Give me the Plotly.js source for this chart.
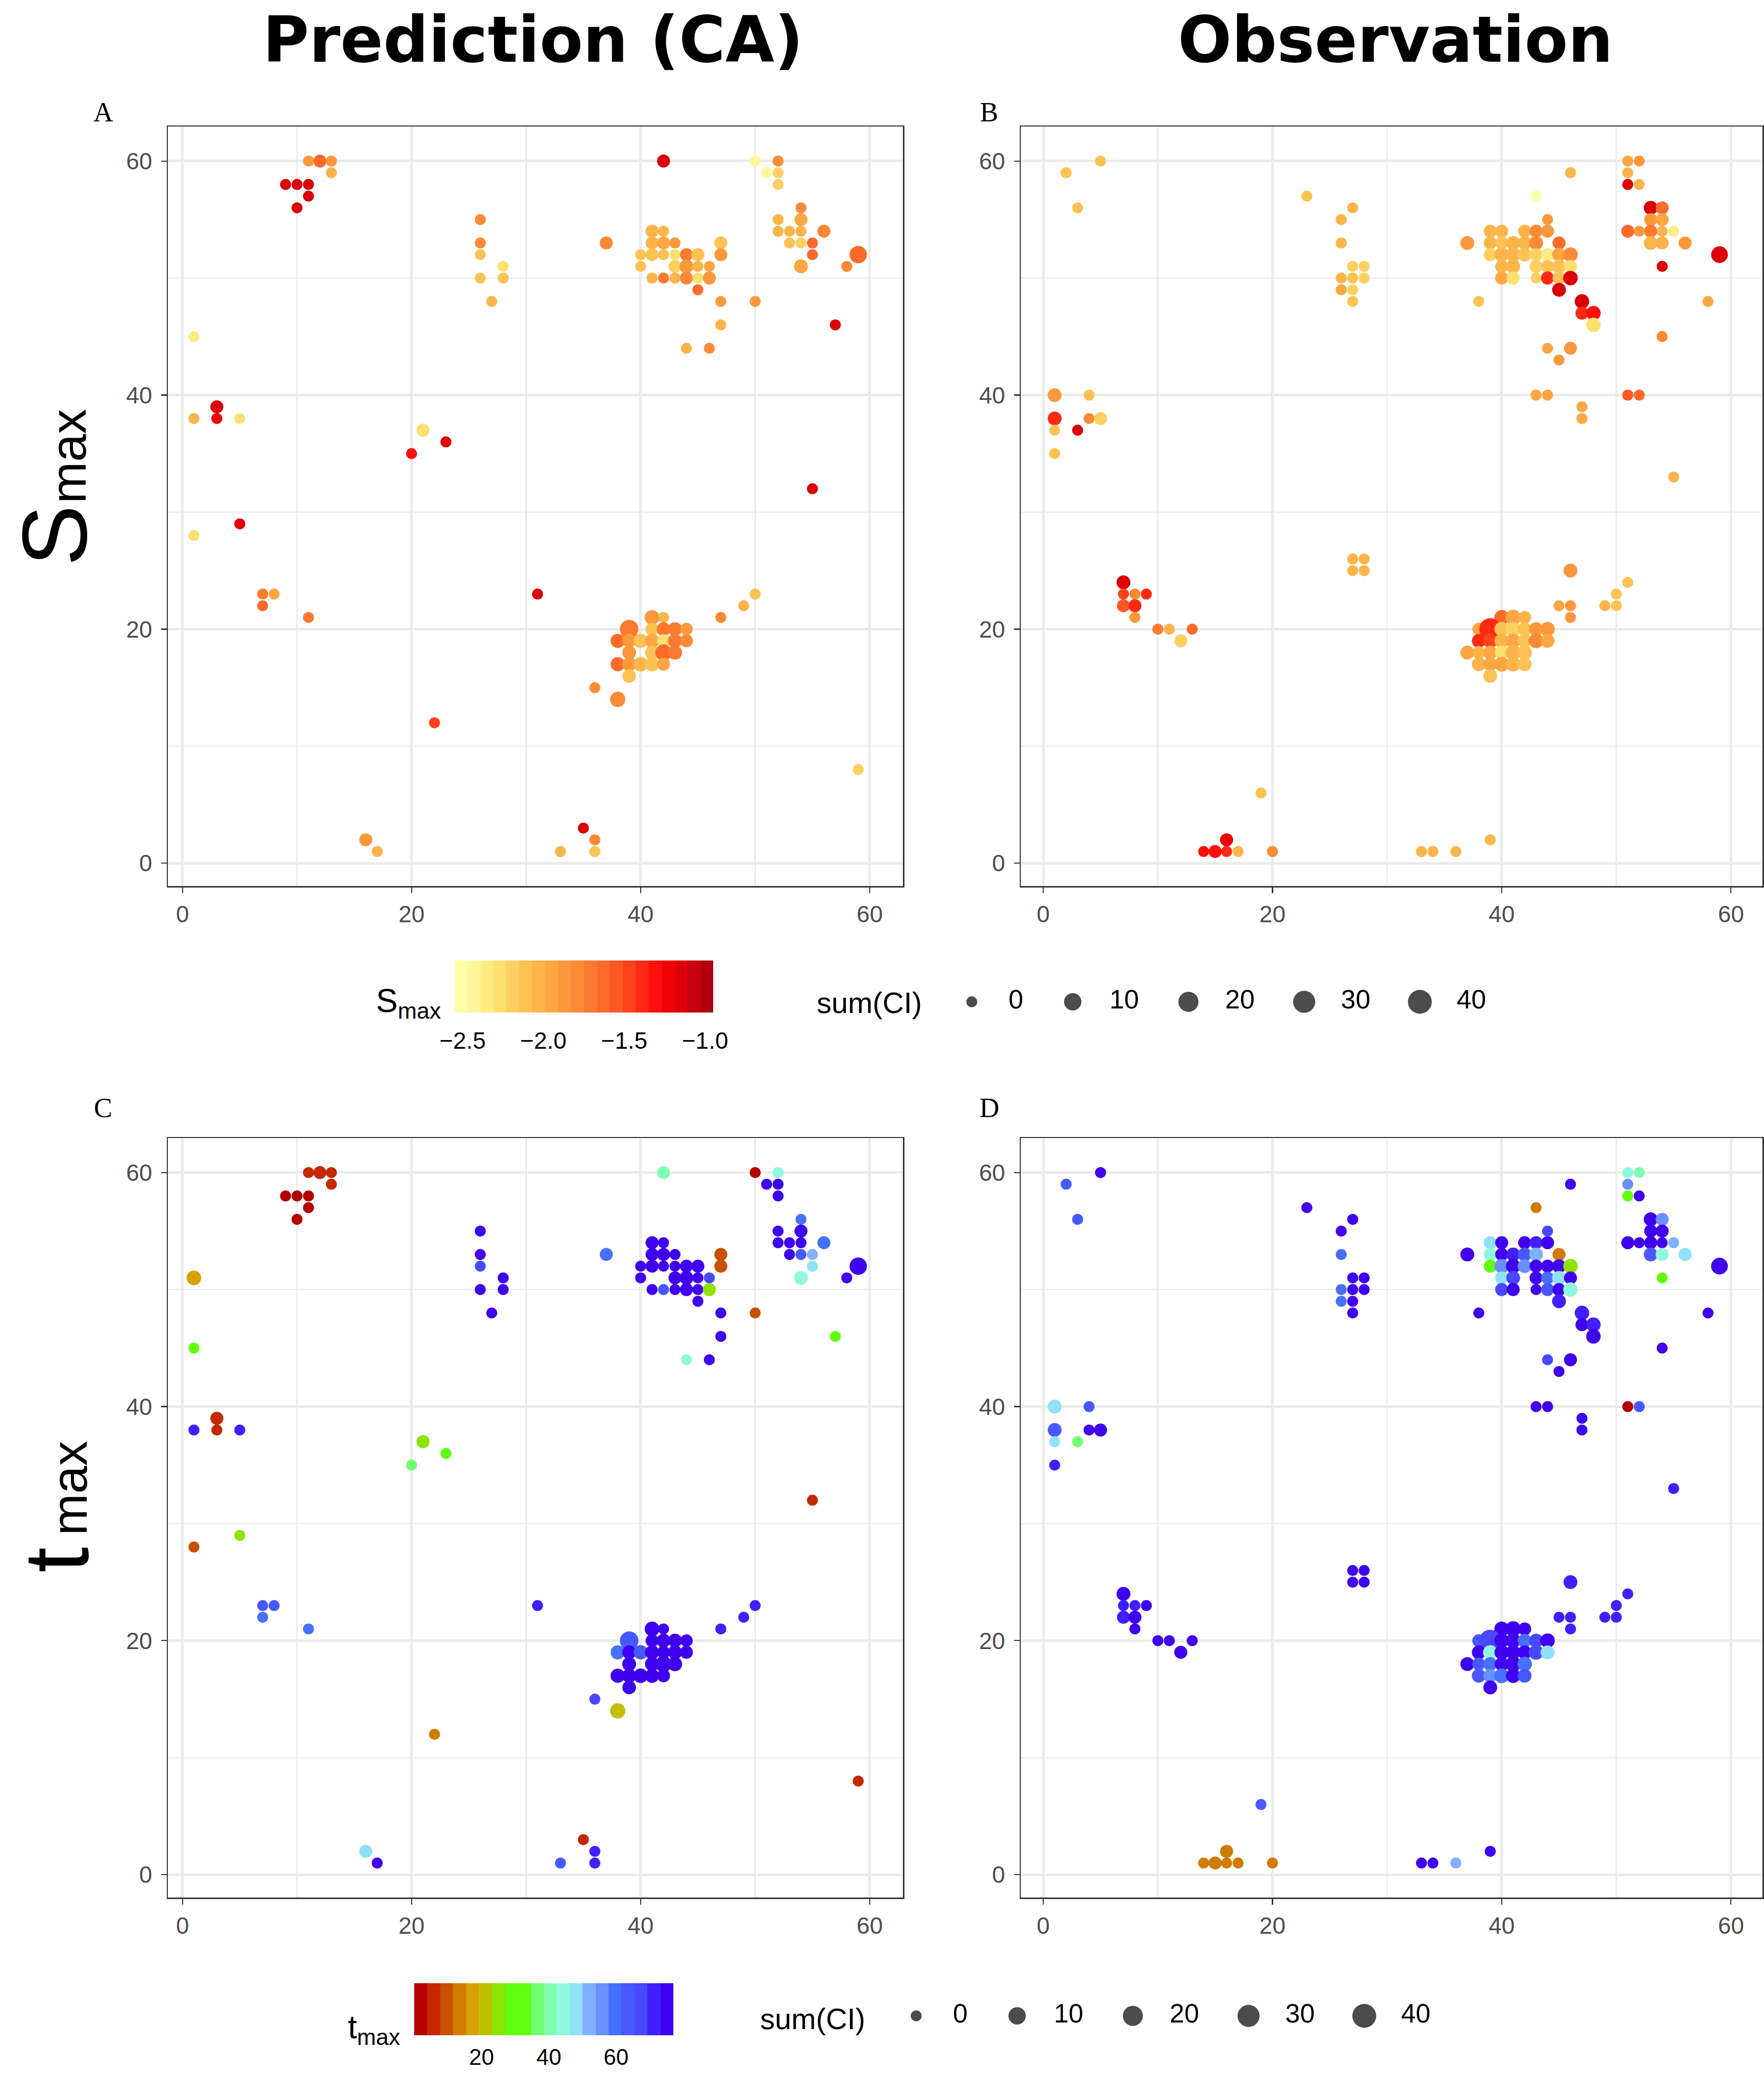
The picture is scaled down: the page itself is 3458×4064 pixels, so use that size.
<!DOCTYPE html>
<html><head><meta charset="utf-8">
<script src="https://cdn.plot.ly/plotly-3.0.1.min.js"></script>
<style>html,body{margin:0;padding:0;background:#fff}#chart{width:3458px;height:4064px}</style>
</head><body><div id="chart"></div>
<script>
// ---------- DATA: Prediction (CA) — panels A (S_max) and C (t_max) ----------
const predX = [11,12,13,13,9,10,11,11,10,
  1,1,3,3,1,5,5,1,7,8,7,11,
  21,23,20,31,22,16,17,33,35,36,36,
  26,26,26,28,26,28,27,37,
  41,42,41,42,43,
  40,41,42,43,44,45,
  40,43,44,45,46,
  41,42,43,44,45,46,
  45,47,47,47,50,47,44,46,42,
  50,52,51,52,52,54,52,54,52,53,54,56,53,54,55,55,59,54,58,57,55,59,
  41,42,39,41,42,43,44,38,39,40,41,42,43,44,39,41,42,43,38,39,40,41,42,39,36,38,47,49,50];
const predY = [60,60,60,59,58,58,58,57,56,
  51,45,39,38,38,38,29,28,23,23,22,21,
  37,36,35,23,12,2,1,1,3,2,1,
  55,53,52,51,50,50,48,53,
  54,54,53,53,53,
  52,52,52,52,52,52,
  51,51,51,51,51,
  50,50,50,50,50,50,
  49,53,52,48,48,46,44,44,60,
  60,60,59,59,58,56,55,55,54,54,54,54,53,53,53,52,52,51,51,46,32,8,
  21,21,20,20,20,20,20,19,19,19,19,19,19,19,18,18,18,18,17,17,17,17,17,16,15,14,21,22,23];
const predCI = [0,1,0,0,0,0,0,0,0,
  3,0,1,0,0,0,0,0,0,0,0,0,
  1,0,0,0,0,1,0,0,0,0,0,
  0,0,0,0,0,0,0,1,
  1,0,1,1,0,
  0,1,0,0,1,1,
  0,1,2,0,0,
  0,0,0,1,0,1,
  0,1,1,0,0,0,0,0,1,
  0,0,0,0,0,0,0,1,0,0,0,1,0,0,0,0,10,2,0,0,0,0,
  3.5,0,14,1,2,2,0.6,2.5,2,2.6,2.5,1,2.5,1,2,2.5,7,2.6,2.6,2.5,3,2.5,1,1.7,0,4.5,0,0,0];
const predS = [-1.88,-1.62,-1.85,-2.0,-1.18,-1.18,-1.18,-1.18,-1.18,
  null,-2.35,-1.18,-1.2,-2.0,-2.25,-1.15,-2.3,-1.7,-1.95,-1.6,-1.75,
  -2.25,-1.15,-1.3,-1.15,-1.45,-1.9,-2.0,-2.0,-1.15,-1.8,-2.1,
  -1.78,-1.8,-2.1,-2.3,-2.15,-2.15,-2.0,-1.8,
  -2.05,-2.05,-2.05,-1.95,-1.9,
  -2.1,-2.1,-2.1,-2.25,-1.72,-2.1,
  -2.1,-2.2,-1.88,-2.05,-1.95,
  -2.05,-1.75,-2.05,-1.8,-2.25,-1.9,
  -1.62,-2.1,-1.9,-1.88,-1.9,-2.05,-2.05,-1.8,-1.15,
  -2.4,-1.8,-2.4,-2.2,-2.2,-1.78,-2.0,-1.95,-2.05,-2.05,-2.05,-1.78,-2.1,-2.2,-1.65,-1.6,-1.62,-1.95,-1.8,-1.15,-1.15,-2.2,
  -1.88,-2.0,-1.72,-2.1,-1.75,-1.75,-1.85,-1.65,-1.9,-2.1,-1.95,-2.25,-1.72,-1.8,-1.9,-2.1,-1.6,-1.75,-1.65,-1.9,-2.05,-2.1,-1.95,-2.1,-1.78,-1.78,-1.8,-2.05,-2.1];
const predT = [5,5,5,5,3,3,3,3,3,
  18,30,4,4,72,72,25,9,64,64,60,60,
  26,32,36,72,15,48,75,64,4,72,72,
  75,75,68,75,75,75,75,60,
  75,75,75,75,75,
  75,75,75,75,75,75,
  75,75,75,75,68,
  75,64,75,75,75,25,
  75,9,9,75,9,75,46,75,40,
  2,46,75,75,75,60,75,75,75,75,75,60,75,64,52,48,75,45,75,30,5,5,
  75,75,62,75,75,75,75,60,75,64,75,75,75,75,75,75,75,75,75,75,75,75,75,75,68,21,72,72,72];

// ---------- DATA: Observation — panels B (S_max) and D (t_max) ----------
const obsX = [2,5,3,23,
  1,4,1,4,5,3,1,1,
  7,7,8,9,7,8,8,10,11,13,12,
  27,28,27,28,
  14,15,16,16,17,20,19,33,34,36,39,
  27,26,26,27,28,26,27,28,26,27,27,38,
  37,43,46,44,
  39,40,42,43,44,
  39,40,41,42,43,45,
  39,40,41,42,43,44,45,46,
  40,41,43,44,45,46,
  40,41,43,44,45,46,
  45,47,47,48,48,44,46,45,
  51,52,51,51,52,53,54,53,54,51,52,53,54,55,53,54,56,59,54,58,54,
  43,44,47,47,51,52,55,46,45,46,46,49,50,50,51,
  40,41,42,38,39,40,41,42,43,44,38,39,40,41,42,43,44,37,38,39,40,41,42,38,39,40,41,42,39];
const obsY = [59,60,56,57,
  40,40,38,38,38,37,37,35,
  24,23,23,23,22,22,21,20,20,20,19,
  26,26,25,25,
  1,1,2,1,1,1,6,1,1,1,2,
  56,55,53,51,51,50,50,50,49,49,48,48,
  53,57,59,55,
  54,54,54,54,54,
  53,53,53,53,53,53,
  52,52,52,52,52,52,52,52,
  51,51,51,51,51,51,
  50,50,50,50,50,50,
  49,48,47,47,46,44,44,43,
  60,60,59,58,58,56,56,55,55,54,54,54,54,54,53,53,53,52,51,48,45,
  40,40,39,38,40,40,33,25,22,22,21,22,22,23,24,
  21,21,21,20,20,20,20,20,20,20,19,19,19,19,19,19,19,18,18,18,18,18,18,17,17,17,17,17,16];
const obsCI = [0,0,0,0,
  2,0,2,0,1,0,0,0,
  2,0,0,0,1,1,0,0,0,0,1,
  0,0,0,0,
  0,1,1,0,0,0,0,0,0,0,0,
  0,0,0,0,0,0,0,0,0,0,0,0,
  2,0,0,0,
  1,1,1,1,1,
  1,1,2,2,2,1,
  1,3,3,2,1,1,2,3,
  1,2,1,1,2,1,
  1,1,0,1,1,3,
  2,3,1,3,3,0,1,0,
  0,0,0,0,0,2,1,1,1,1,0,1,0,0,2,1,1,8,0,0,0,
  0,0,0,0,0,0,0,2,0,0,0,0,0,0,0,
  3.5,5,1,1,29,3,3.5,2,2,3,2,3,3,3,2,3.5,2,2,1,2,2,5,3,2,2,3.5,3,2,2];
const obsS = [-2.1,-2.15,-2.1,-2.15,
  -1.9,-2.1,-1.38,-1.8,-2.2,-1.15,-2.1,-2.1,
  -1.15,-1.45,-1.78,-1.35,-1.55,-1.35,-1.9,-1.7,-2.05,-1.65,-2.2,
  -2.05,-2.05,-2.05,-2.05,
  -1.3,-1.3,-1.2,-1.4,-2.0,-1.8,-2.1,-2.05,-2.05,-2.05,-2.05,
  -2.05,-2.05,-2.05,-2.2,-2.2,-2.05,-2.1,-2.2,-1.95,-2.2,-2.1,-2.1,
  -1.9,-2.55,-2.05,-1.85,
  -2.05,-2.05,-2.05,-1.82,-1.85,
  -2.05,-2.1,-2.05,-2.05,-1.8,-1.62,
  -2.2,-2.05,-2.05,-2.1,-2.2,-2.35,-1.95,-1.8,
  -2.05,-2.05,-2.2,-2.1,-2.1,-2.25,
  -1.95,-2.25,-2.2,-1.4,-2.1,-1.15,
  -1.15,-1.15,-1.4,-1.3,-2.25,-1.95,-1.85,-1.9,
  -1.95,-1.85,-2.0,-1.15,-2.05,-1.15,-1.6,-1.9,-1.95,-1.6,-1.9,-1.72,-2.05,-2.35,-2.0,-2.05,-1.9,-1.15,-1.15,-1.95,-1.8,
  -1.95,-1.95,-1.95,-1.95,-1.55,-1.6,-2.05,-1.9,-1.95,-1.9,-1.9,-2.05,-2.1,-2.1,-2.1,
  -1.62,-1.92,-2.05,-1.95,-1.35,-2.1,-2.2,-2.1,-1.9,-1.9,-1.38,-1.5,-2.05,-1.98,-2.1,-1.78,-1.92,-1.92,-2.05,-1.95,-2.25,-2.05,-2.1,-2.05,-1.92,-1.98,-2.05,-2.1,-2.1];
const obsT = [64,75,64,75,
  48,64,64,75,75,36,48,72,
  75,72,72,75,72,75,75,75,75,75,75,
  75,75,75,75,
  13,13,13,13,13,13,64,75,75,52,75,
  75,75,60,75,75,60,75,75,60,75,75,75,
  75,13,75,68,
  48,75,75,70,75,
  44,75,71,64,52,14,
  30,56,75,56,75,75,75,25,
  48,68,75,60,48,75,
  68,75,75,62,75,44,
  71,72,75,72,75,68,75,75,
  44,40,56,30,75,75,56,75,75,75,75,75,75,52,64,44,48,75,30,75,75,
  75,75,75,75,3,64,72,72,72,72,72,72,72,72,72,
  75,75,75,64,66,75,75,60,68,75,75,44,75,75,75,68,48,75,64,58,75,75,60,64,56,60,75,64,75];

// legend keys and tick labels
const ciKeys = [0,10,20,30,40];
const axisTicks = [0,20,40,60];
const sTicks = [-2.5,-2.0,-1.5,-1.0];
const sTickText = ['\u22122.5','\u22122.0','\u22121.5','\u22121.0'];
const tTicks = [20,40,60];

// ---------- STYLE ----------
const W=3458, H=4064;
const fx=p=>p/W, fy=p=>1-p/H;
const FONT='Liberation Sans, Arial, Helvetica, sans-serif';
const sBins=['#FFFFA8','#FFF59A','#FEEB82','#FEE070','#FED062','#FDC254','#FDB44A','#FDA642','#FC983C','#FC8A36','#FC7A30','#FD6A2A','#FD5824','#FE421C','#FF2A14','#FF100C','#F00006','#DC0008','#C6000C','#B0000F'];
const tBins=['#B40000','#C42800','#C85000','#D07C00','#D8A000','#C0C000','#8CE400','#60FF10','#60FF10','#70FF70','#80FFB0','#90F8E0','#90E0F8','#80B0FF','#6890FF','#4870FF','#4858FF','#4848FF','#4020FF','#4000F0'];
function stepScale(b){const cs=[];b.forEach((c,i)=>{cs.push([i/b.length,c]);cs.push([(i+1)/b.length,c]);});return cs;}
function dia(ci){return 21.5+4*Math.sqrt(ci);}

function panelTrace(X,Y,CI,V,xa,ya,cax){
  const idx=[];V.forEach((v,i)=>{if(v!==null&&v!==undefined)idx.push(i);});
  return {type:'scatter',mode:'markers',xaxis:xa,yaxis:ya,
    x:idx.map(i=>X[i]),y:idx.map(i=>Y[i]),
    marker:{size:idx.map(i=>dia(CI[i])),color:idx.map(i=>V[i]),coloraxis:cax,line:{width:0},opacity:1},
    hoverinfo:'skip',showlegend:false};
}

const traces=[
  panelTrace(predX,predY,predCI,predS,'x','y','coloraxis'),
  panelTrace(obsX,obsY,obsCI,obsS,'x2','y2','coloraxis'),
  panelTrace(predX,predY,predCI,predT,'x3','y3','coloraxis2'),
  panelTrace(obsX,obsY,obsCI,obsT,'x4','y4','coloraxis2')
];

// size legends
const LEGF=52;
function keyXs(start){const xs=[];let x=start;ciKeys.forEach(k=>{xs.push(x);x+=84+String(k).length*0.556*LEGF+85;});return xs;}
function sizeLegend(start,xa,ya){
  const xs=keyXs(start);
  return [
    {type:'scatter',mode:'markers',xaxis:xa,yaxis:ya,x:xs,y:xs.map(()=>0),
     marker:{size:ciKeys.map(dia),color:'#000000',line:{width:0}},hoverinfo:'skip',showlegend:false},
    {type:'scatter',mode:'text',xaxis:xa,yaxis:ya,x:xs.map(v=>v+72),y:xs.map(()=>0),
     text:ciKeys.map(String),textposition:'middle right',textfont:{family:FONT,size:LEGF,color:'#000'},
     hoverinfo:'skip',showlegend:false}
  ];
}
traces.push(...sizeLegend(1905,'x5','y5'));
traces.push(...sizeLegend(1796,'x6','y6'));

function ax(dom,range,anchor,isY){
  return {domain:dom,range:range,anchor:anchor,tickvals:axisTicks,ticks:'outside',ticklen:11,tickwidth:2.2,tickcolor:'#333333',
    ticklabelstandoff:isY?8:2,
    tickfont:{family:FONT,size:46,color:'#4D4D4D'},showgrid:true,gridcolor:'#EBEBEB',gridwidth:5,
    minor:{dtick:10,tick0:0,showgrid:true,gridcolor:'#EBEBEB',gridwidth:2.5,ticks:''},
    showline:true,mirror:true,linecolor:'#333333',linewidth:2.5,zeroline:false,fixedrange:true};
}
const XRA=[-1.28,62.9], XRB=[-1.96,62.75], YR=[-1.95,62.95];
const colL=[fx(329),fx(1770)], colR=[fx(2001),fx(3455)];
const rowT=[fy(1737),fy(248)], rowB=[fy(3720),fy(2231)];
const hidden=(dom,range,anchor)=>({domain:dom,range:range,anchor:anchor,visible:false,fixedrange:true});

const layout={
  width:W,height:H,margin:{l:0,r:0,t:0,b:0,autoexpand:false},paper_bgcolor:'#ffffff',plot_bgcolor:'#ffffff',showlegend:false,
  xaxis:ax(colL,XRA,'y'), yaxis:ax(rowT,YR,'x',true),
  xaxis2:ax(colR,XRB,'y2'), yaxis2:ax(rowT,YR,'x2',true),
  xaxis3:ax(colL,XRA,'y3'), yaxis3:ax(rowB,YR,'x3',true),
  xaxis4:ax(colR,XRB,'y4'), yaxis4:ax(rowB,YR,'x4',true),
  xaxis5:hidden([0,1],[0,W],'y5'), yaxis5:hidden([fy(1994),fy(1934)],[-1,1],'x5'),
  xaxis6:hidden([0,1],[0,W],'y6'), yaxis6:hidden([fy(3982),fy(3922)],[-1,1],'x6'),
  coloraxis:{colorscale:stepScale(sBins),cmin:-2.55,cmax:-0.95,showscale:true,
    colorbar:{orientation:'h',x:fx(1144.5),xanchor:'center',y:fy(1883),yanchor:'top',len:507,lenmode:'pixels',
      thickness:102,thicknessmode:'pixels',outlinewidth:0,xpad:0,ypad:0,tickvals:sTicks,ticktext:sTickText,
      ticks:'outside',ticklen:16,tickcolor:'rgba(0,0,0,0)',tickfont:{family:FONT,size:46,color:'#000'}}},
  coloraxis2:{colorscale:stepScale(tBins),cmin:0,cmax:77,showscale:true,
    colorbar:{orientation:'h',x:fx(1066),xanchor:'center',y:fy(3888),yanchor:'top',len:508,lenmode:'pixels',
      thickness:102,thicknessmode:'pixels',outlinewidth:0,xpad:0,ypad:0,tickvals:tTicks,
      ticks:'outside',ticklen:6,tickcolor:'rgba(0,0,0,0)',tickfont:{family:FONT,size:44,color:'#000'}}},
  annotations:[
    {text:'Prediction (CA)',x:fx(1045),y:fy(78),xref:'paper',yref:'paper',xanchor:'center',yanchor:'middle',showarrow:false,
      font:{family:'DejaVu Sans, sans-serif',size:124,weight:'bold',color:'#000'}},
    {text:'Observation',x:fx(2735),y:fy(78),xref:'paper',yref:'paper',xanchor:'center',yanchor:'middle',showarrow:false,
      font:{family:'DejaVu Sans, sans-serif',size:124,weight:'bold',color:'#000'}},
    {text:'S',x:fx(106),y:fy(1050),xref:'paper',yref:'paper',xanchor:'center',yanchor:'middle',showarrow:false,textangle:-90,
      font:{family:FONT,size:180,color:'#000'}},
    {text:'max',x:fx(134),y:fy(895),xref:'paper',yref:'paper',xanchor:'center',yanchor:'middle',showarrow:false,textangle:-90,
      font:{family:FONT,size:98,color:'#000'}},
    {text:'t',x:fx(110),y:fy(3058),xref:'paper',yref:'paper',xanchor:'center',yanchor:'middle',showarrow:false,textangle:-90,
      font:{family:FONT,size:180,color:'#000'}},
    {text:'max',x:fx(136),y:fy(2918),xref:'paper',yref:'paper',xanchor:'center',yanchor:'middle',showarrow:false,textangle:-90,
      font:{family:FONT,size:98,color:'#000'}},
    {text:'A',x:fx(202),y:fy(220),xref:'paper',yref:'paper',xanchor:'center',yanchor:'middle',showarrow:false,font:{family:'Liberation Serif, Times New Roman, serif',size:54,color:'#000'}},
    {text:'B',x:fx(1939),y:fy(220),xref:'paper',yref:'paper',xanchor:'center',yanchor:'middle',showarrow:false,font:{family:'Liberation Serif, Times New Roman, serif',size:54,color:'#000'}},
    {text:'C',x:fx(202),y:fy(2172),xref:'paper',yref:'paper',xanchor:'center',yanchor:'middle',showarrow:false,font:{family:'Liberation Serif, Times New Roman, serif',size:54,color:'#000'}},
    {text:'D',x:fx(1939),y:fy(2172),xref:'paper',yref:'paper',xanchor:'center',yanchor:'middle',showarrow:false,font:{family:'Liberation Serif, Times New Roman, serif',size:54,color:'#000'}},
    {text:'S<sub>max</sub>',x:fx(866),y:fy(2008),xref:'paper',yref:'paper',xanchor:'right',yanchor:'bottom',showarrow:false,font:{family:FONT,size:64,color:'#000'}},
    {text:'t<sub>max</sub>',x:fx(786),y:fy(4020),xref:'paper',yref:'paper',xanchor:'right',yanchor:'bottom',showarrow:false,font:{family:FONT,size:64,color:'#000'}},
    {text:'sum(CI)',x:fx(1599),y:fy(1966),xref:'paper',yref:'paper',xanchor:'left',yanchor:'middle',showarrow:false,font:{family:FONT,size:58,color:'#000'}},
    {text:'sum(CI)',x:fx(1488),y:fy(3957),xref:'paper',yref:'paper',xanchor:'left',yanchor:'middle',showarrow:false,font:{family:FONT,size:58,color:'#000'}}
  ]
};
Plotly.newPlot('chart',traces,layout,{displayModeBar:false,staticPlot:true});
</script></body></html>
